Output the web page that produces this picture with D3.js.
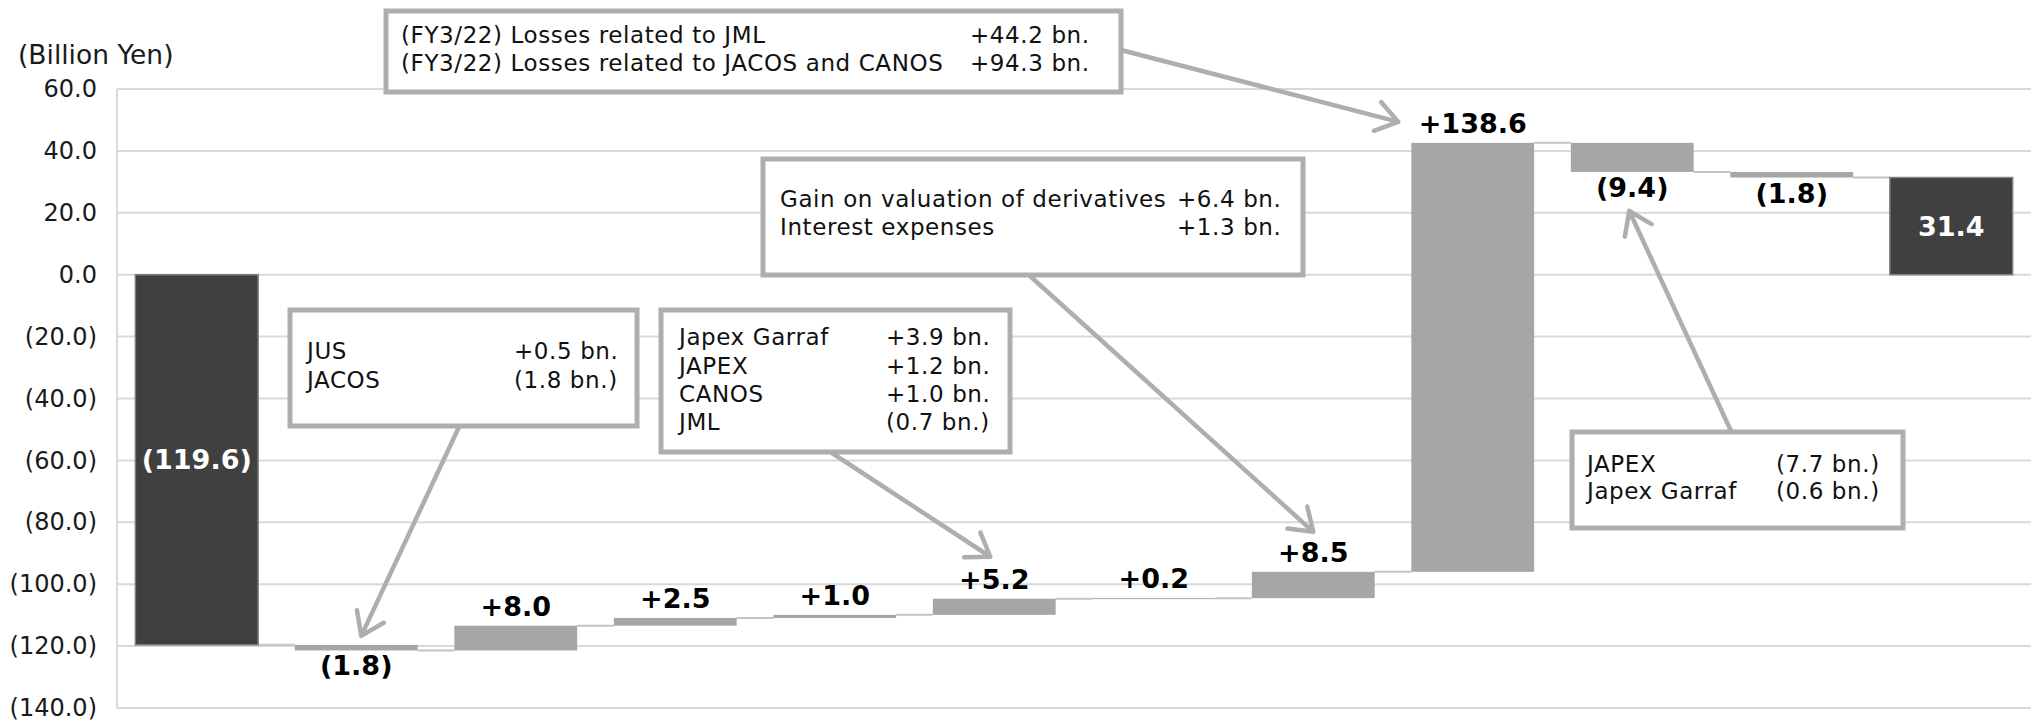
<!DOCTYPE html>
<html>
<head>
<meta charset="utf-8">
<script src="https://cdn.jsdelivr.net/npm/d3@7"></script>
<style>
  html, body { margin: 0; padding: 0; background: #fff; }
  svg { display: block; }
  text { font-family: Verdana, "DejaVu Sans", sans-serif; }
</style>
</head>
<body>
<svg id="chart" width="2034" height="724"></svg>
<script>
// ---------- data ----------
const categories = ["FY3/22 result", "Overseas subsidiaries 1", "Step 3", "Step 4", "Step 5",
                    "Equity-method", "Step 7", "Non-operating", "FY3/22 losses", "Tax", "Minority", "FY3/23 result"];
const values = [-119.6, -1.8, 8.0, 2.5, 1.0, 5.2, 0.2, 8.5, 138.6, -9.4, -1.8, 31.4];
const kinds = ["total", "delta", "delta", "delta", "delta", "delta", "delta", "delta", "delta", "delta", "delta", "total"];
const yTicks = [60, 40, 20, 0, -20, -40, -60, -80, -100, -120, -140];
const unitLabel = "(Billion Yen)";

const noteA = [["(FY3/22) Losses related to JML", "+44.2 bn."],
               ["(FY3/22) Losses related to JACOS and CANOS", "+94.3 bn."]];
const noteB = [["Gain on valuation of derivatives", "+6.4 bn."],
               ["Interest expenses", "+1.3 bn."]];
const noteC = [["JUS", "+0.5 bn."],
               ["JACOS", "(1.8 bn.)"]];
const noteD = [["Japex Garraf", "+3.9 bn."],
               ["JAPEX", "+1.2 bn."],
               ["CANOS", "+1.0 bn."],
               ["JML", "(0.7 bn.)"]];
const noteE = [["JAPEX", "(7.7 bn.)"],
               ["Japex Garraf", "(0.6 bn.)"]];

// ---------- layout ----------
const svg = d3.select("#chart");
const plotL = 117, plotR = 2031, plotT = 89, plotB = 708;
const COL_TOTAL = "#404040", COL_DELTA = "#a6a6a6", COL_GRID = "#d9d9d9",
      COL_CONN = "#c4c4c4", COL_NOTE = "#aeaeae";

const x = d3.scaleBand().domain(categories).range([plotL, plotR])
  .paddingInner(0.23).paddingOuter(0.115);
const y = d3.scaleLinear().domain([-140, 60]).range([plotB, plotT]);

const fmtTick = v => v < 0 ? `(${d3.format(".1f")(-v)})` : d3.format(".1f")(v);
const fmtVal = (v, k) => k === "total"
  ? (v < 0 ? `(${d3.format(".1f")(-v)})` : d3.format(".1f")(v))
  : (v < 0 ? `(${d3.format(".1f")(-v)})` : `+${d3.format(".1f")(v)}`);

// running totals
let run = 0;
const bars = categories.map((c, i) => {
  const v = values[i], k = kinds[i];
  let y0, y1;
  if (k === "total") { y0 = 0; y1 = v; run = v; }
  else { y0 = run; y1 = run + v; run = y1; }
  return { c, v, k, lo: Math.min(y0, y1), hi: Math.max(y0, y1), end: run };
});

// ---------- grid & axis ----------
const grid = svg.append("g");
grid.selectAll("line.g").data(yTicks).join("line")
  .attr("x1", plotL).attr("x2", plotR)
  .attr("y1", d => y(d)).attr("y2", d => y(d))
  .attr("stroke", COL_GRID).attr("stroke-width", 2);
grid.append("line").attr("x1", plotL).attr("x2", plotL)
  .attr("y1", y(60)).attr("y2", y(-140))
  .attr("stroke", COL_GRID).attr("stroke-width", 2);

const yAxis = d3.axisLeft(y).tickValues(yTicks).tickFormat(fmtTick).tickSize(0).tickPadding(20);
const ag = svg.append("g").attr("transform", `translate(${plotL},0)`).call(yAxis);
ag.select(".domain").remove();
ag.selectAll("text").attr("font-size", 24).attr("fill", "#1a1a1a")
  .attr("font-family", 'Verdana, "DejaVu Sans", sans-serif');

svg.append("text").attr("x", 18).attr("y", 64).attr("font-size", 26.5)
  .attr("fill", "#1a1a1a").text(unitLabel);

// ---------- connectors ----------
svg.append("g").selectAll("line").data(bars.slice(0, -1)).join("line")
  .attr("x1", d => x(d.c) + x.bandwidth())
  .attr("x2", (d, i) => x(categories[i + 1]))
  .attr("y1", d => y(d.end)).attr("y2", d => y(d.end))
  .attr("stroke", COL_CONN).attr("stroke-width", 2);

// ---------- bars ----------
svg.append("g").selectAll("rect").data(bars).join("rect")
  .attr("x", d => x(d.c)).attr("width", x.bandwidth())
  .attr("y", d => y(d.hi)).attr("height", d => Math.max(1, y(d.lo) - y(d.hi)))
  .attr("fill", d => d.k === "total" ? COL_TOTAL : COL_DELTA)
  .attr("stroke", d => d.k === "total" ? "#808080" : "none")
  .attr("stroke-width", 1.5);

// ---------- value labels ----------
svg.append("g").selectAll("text").data(bars).join("text")
  .attr("x", d => x(d.c) + x.bandwidth() / 2)
  .attr("y", d => {
    if (d.k === "total") return (y(d.lo) + y(d.hi)) / 2;
    return d.v >= 0 ? y(d.hi) - 10 : y(d.lo) + 25;
  })
  .attr("dominant-baseline", d => d.k === "total" ? "central" : "alphabetic")
  .attr("text-anchor", "middle")
  .attr("font-size", 27).attr("font-weight", "bold")
  .attr("fill", d => d.k === "total" ? "#ffffff" : "#000000")
  .text(d => fmtVal(d.v, d.k));

// ---------- annotation boxes ----------
function noteBox(rows, bx, by, bw, bh, tx, vx, baselines) {
  const g = svg.append("g");
  g.append("rect").attr("x", bx).attr("y", by).attr("width", bw).attr("height", bh)
    .attr("fill", "#fff").attr("stroke", COL_NOTE).attr("stroke-width", 5);
  rows.forEach((r, i) => {
    g.append("text").attr("x", tx).attr("y", baselines[i]).attr("font-size", 23)
      .attr("letter-spacing", 0.6).attr("fill", "#111").text(r[0]);
    g.append("text").attr("x", vx).attr("y", baselines[i]).attr("font-size", 23)
      .attr("letter-spacing", 0.6).attr("fill", "#111").text(r[1]);
  });
}
function arrow(x1, y1, x2, y2) {
  const a = Math.atan2(y2 - y1, x2 - x1), L = 26, sp = Math.PI / 5.2;
  const p1 = [x2 - L * Math.cos(a - sp), y2 - L * Math.sin(a - sp)];
  const p2 = [x2 - L * Math.cos(a + sp), y2 - L * Math.sin(a + sp)];
  svg.append("path")
    .attr("d", `M${x1},${y1}L${x2},${y2}M${p1[0]},${p1[1]}L${x2},${y2}L${p2[0]},${p2[1]}`)
    .attr("fill", "none").attr("stroke", COL_NOTE).attr("stroke-width", 4.5)
    .attr("stroke-linecap", "round").attr("stroke-linejoin", "round");
}
const cx = i => x(categories[i]) + x.bandwidth() / 2;
const b = i => bars[i];

// arrows (drawn under boxes)
arrow(1121, 50, x(categories[8]) - 13, y(b(8).hi) - 21);
arrow(1030, 276, cx(7), y(b(7).hi) - 40);
arrow(459, 427, cx(1) + 5, y(b(1).hi) - 9);
arrow(832, 453, cx(5) - 4, y(b(5).hi) - 42);
arrow(1731, 431, cx(9) - 3, y(b(9).lo) + 39);

noteBox(noteA, 386, 11, 735, 81, 401, 970, [43, 71]);
noteBox(noteB, 763, 159, 540, 116, 780, 1177, [207, 235]);
noteBox(noteC, 290, 310, 347, 116, 307, 514, [359, 388]);
noteBox(noteD, 661, 310, 349, 142, 679, 886, [345, 374, 402, 430]);
noteBox(noteE, 1572, 432, 331, 96, 1587, 1776, [472, 499]);
</script>
</body>
</html>
